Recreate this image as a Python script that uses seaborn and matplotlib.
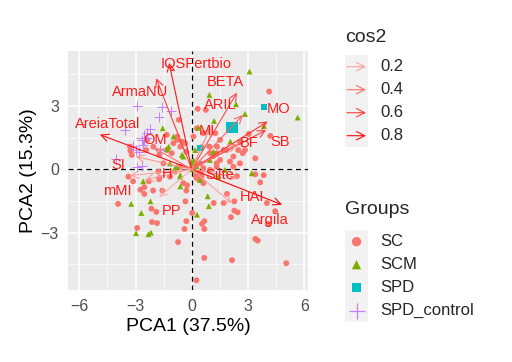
import numpy as np
import pandas as pd
import matplotlib
matplotlib.use("Agg")
import matplotlib.pyplot as plt
import seaborn as sns
from matplotlib.colors import LinearSegmentedColormap

# individuals (PC1, PC2) per group
sc_x = [4.13, 0.32, 0.75, -0.69, 0.28, 1.26, -0.78, -0.61, 1.35, -0.77, -0.53, -0.30, -1.07, -1.73, -2.05, -2.43,
        -3.29, -3.20, -3.27, -2.38, 3.04, 2.72, 3.39, 4.19, 2.57, 0.53, 0.94, 1.15, 1.33, 1.51, 1.86, 2.04, 2.22,
        2.57, 2.84, 2.48, -1.51, -0.89, -1.78, 0.35, 0.62, 1.33, 2.22, -3.38, -3.13, -2.74, -2.53, -2.53, -2.29,
        -3.93, -2.91, -2.06, -1.57, -1.73, -2.15, -1.89, -0.34, -0.25, -0.29, 0.02, -0.29, -0.39, 0.55, 0.67, 0.67,
        -2.12, -1.85, -0.73, 0.67, 0.25, 1.17, 1.70, 1.88, 2.41, 3.84, 3.65, 2.27, 2.27, 2.45, 2.09, 4.01, 4.45,
        4.05, 3.39, 3.52, 2.15, 5.04, -1.33, -0.98, 0.62, 1.51, 1.69, 0.97, 1.33, 0.97, 0.62, -0.45, -1.16, -1.33,
        0.09, -0.36, -0.62, 0.44, -1.74, 3.39]
sc_y = [3.68, 2.86, 2.81, 2.34, 1.94, 1.71, 1.39, 1.07, 1.07, 1.55, 1.31, 0.83, 0.76, 0.68, 1.07, 0.91,
        1.07, 0.68, 0.88, 1.39, 1.67, 0.76, 0.52, 1.58, 1.28, 1.04, 1.07, 0.63, 0.76, 0.44, 0.91, 0.36, 0.60,
        0.28, 0.91, 0.91, 0.28, -0.11, -0.11, -0.27, 0.05, 0.12, 0.12, -0.35, -0.57, -0.97, -0.85, -1.17, -0.57,
        -1.64, -2.78, -1.01, -1.01, -0.41, -1.87, -2.02, -1.52, -0.76, -1.01, -2.07, -2.46, -2.83, -2.59, -2.46, -2.83,
        -2.50, -2.55, -3.45, -4.20, -5.26, -1.60, -1.60, -1.17, -0.33, -0.28, -0.62, -1.52, -1.96, -2.04, -2.27, -1.60, -1.99,
        -2.59, -3.30, -3.38, -4.31, -4.45, 1.63, 1.23, 1.71, 1.39, 0.91, 0.76, 0.28, -0.03, -0.66, -0.66, -0.35, 0.91,
        1.55, 1.23, 0.12, 0.28, -0.47, -0.24]

scm_x = [3.08, 0.94, 2.36, 2.84, 5.65, 3.85, 1.19, 0.35, -1.55, -0.98, 2.06, 1.15, 0.18, -0.45, -0.80, -1.23,
         -1.33, 3.20, -2.59, -3.23, -2.69, -2.97, -2.31, -2.18, -2.20, -0.61, -0.61, 0.85, 0.91, 0.28, -0.53, 0.00,
         0.97, 0.44, 0.00, -0.62, 1.42, -0.89, -1.16, 1.77]
scm_y = [4.63, 3.52, 3.08, 2.62, 2.45, 2.05, 2.29, 1.97, 1.94, 1.55, 1.31, 0.83, 0.91, 0.60, 0.12, 1.07,
         0.95, -0.19, -0.57, -1.64, -2.07, -3.03, -3.08, -3.00, -1.52, -0.81, -0.28, -1.28, -1.75, -2.15, 0.68, 0.36,
         0.44, -0.51, 0.00, -0.35, -0.35, 0.05, 0.28, -0.03]

spd_x = [3.86, 0.44]
spd_y = [2.94, 1.00]

ctl_x = [-2.91, -1.58, -1.10, -1.77, -3.55, -2.22, -2.37, -2.66, -3.14, -2.58, -2.97, -1.69, -4.03, -2.93, -2.66, -2.82]
ctl_y = [3.00, 2.97, 2.78, 2.49, 1.86, 1.90, 1.71, 1.39, 1.10, 1.15, 0.91, 0.91, 0.47, 0.12, 0.16, 0.83]

# variables (arrow tips) and cos2
var_names = ["IQSFertbio", "ArmaNU", "BETA", "ARIL", "MO", "SB", "BF", "MI", "AreiaTotal",
             "OM", "SI", "H", "mMI", "PP", "HAI", "Argila", "Silte"]
var_x = [-1.21, -1.90, 2.41, 2.73, 4.05, 3.97, 2.40, 1.00, -4.90, -2.00, -3.00, -3.30, -2.50, -1.74, 2.13, 4.81, 2.50]
var_y = [5.04, 4.31, 3.63, 2.57, 2.26, 1.86, 1.20, 2.00, 1.64, 1.00, 0.60, -0.30, -0.50, -1.32, -1.61, -1.68, -0.40]
var_cos2 = [0.75, 0.60, 0.55, 0.45, 0.65, 0.60, 0.35, 0.30, 0.80, 0.40, 0.25, 0.20, 0.20, 0.15, 0.20, 0.85, 0.30]

label_pos = {
    "IQSFertbio": (0.23, 5.0), "ArmaNU": (-2.73, 3.68), "BETA": (1.78, 4.15), "ARIL": (1.51, 3.05),
    "MO": (4.61, 2.84), "SB": (4.7, 1.31), "BF": (3.04, 1.26), "MI": (0.8, 1.83),
    "AreiaTotal": (-4.51, 2.15), "OM": (-1.96, 1.39), "SI": (-3.91, 0.2), "H": (-1.33, -0.24),
    "mMI": (-3.98, -1.01), "PP": (-1.1, -1.96), "HAI": (3.21, -1.33), "Argila": (4.19, -2.39),
    "Silte": (1.47, -0.27),
}

groups = ["SC", "SCM", "SPD", "SPD_control"]
palette = {"SC": "#F8766D", "SCM": "#7CAE00", "SPD": "#00BFC4", "SPD_control": "#C77CFF"}
markers = {"SC": "o", "SCM": "^", "SPD": "s", "SPD_control": "P"}

ind = pd.concat([
    pd.DataFrame({"PC1": sc_x, "PC2": sc_y, "Groups": "SC"}),
    pd.DataFrame({"PC1": scm_x, "PC2": scm_y, "Groups": "SCM"}),
    pd.DataFrame({"PC1": spd_x, "PC2": spd_y, "Groups": "SPD"}),
    pd.DataFrame({"PC1": ctl_x, "PC2": ctl_y, "Groups": "SPD_control"}),
], ignore_index=True)
centers = ind.groupby("Groups")[["PC1", "PC2"]].mean().reset_index()

sns.set_theme(style="darkgrid")
plt.rcParams['font.family'] = ['Liberation Sans', 'DejaVu Sans']

fig = plt.figure(figsize=(5.12, 3.62), dpi=100)
ax = fig.add_axes([68 / 512, 1 - 290 / 362, 240 / 512, 239 / 362])
ax.set_facecolor("#EBEBEB")

for g in groups:
    d = ind[ind.Groups == g]
    c = centers[centers.Groups == g]
    if g == "SPD_control":
        ax.scatter(d.PC1, d.PC2, marker="+", s=55, c=palette[g], linewidths=0.7, zorder=3)
        ax.scatter(c.PC1, c.PC2, marker="+", s=120, c=palette[g], linewidths=0.8, zorder=3)
    else:
        sns.scatterplot(data=d, x="PC1", y="PC2", marker=markers[g], color=palette[g], s=18,
                        edgecolor="none", ax=ax, zorder=3, legend=False)
        ax.scatter(c.PC1, c.PC2, marker=markers[g], s=70, color=palette[g], edgecolors="none", zorder=3)

cmap = LinearSegmentedColormap.from_list("cos2", ["#FFB8B8", "#FF0000"])
norm = plt.Normalize(0.1, 0.85)
for n, x, y, c in zip(var_names, var_x, var_y, var_cos2):
    col = cmap(norm(c))
    ax.annotate("", xy=(x, y), xytext=(0, 0),
                arrowprops=dict(arrowstyle="->,head_length=0.45,head_width=0.22", color=col, lw=0.8,
                                shrinkA=0, shrinkB=0), zorder=4)
    lx, ly = label_pos[n]
    ax.text(lx, ly, n, color="#FF1A1A", fontsize=10.5, ha="center", va="center", zorder=5)

ax.axhline(0, color="black", ls=(0, (4, 3)), lw=0.9, zorder=2)
ax.axvline(0, color="black", ls=(0, (4, 3)), lw=0.9, zorder=2)

ax.set_xlim(-6.6, 6.2)
ax.set_ylim(-5.72, 5.6)
ax.set_xticks([-6, -3, 0, 3, 6])
ax.set_yticks([-3, 0, 3])
ax.set_xticks([-4.5, -1.5, 1.5, 4.5], minor=True)
ax.set_yticks([-4.5, -1.5, 1.5, 4.5], minor=True)
ax.grid(which="major", color="white", lw=1.1)
ax.grid(which="minor", color="white", lw=0.5)
for s in ax.spines.values():
    s.set_visible(False)
ax.tick_params(which="major", length=3.5, width=1.1, color="#333333", labelsize=11.5, labelcolor="#4D4D4D", pad=3)
ax.tick_params(which="minor", length=0)
ax.set_xlabel("PCA1 (37.5%)", fontsize=14, color="black", labelpad=3)
ax.set_ylabel("PCA2 (15.3%)", fontsize=14, color="black", labelpad=3)

# legends drawn in pixel space
lg = fig.add_axes([0, 0, 1, 1], facecolor="none")
lg.set_xlim(0, 512)
lg.set_ylim(362, 0)
lg.axis("off")
lg.text(345, 37, "cos2", fontsize=14, va="center", ha="left")
lg.add_patch(plt.Rectangle((345, 55), 23, 92, color="#F2F2F2", lw=0, zorder=0))
for i, v in enumerate([0.2, 0.4, 0.6, 0.8]):
    yy = 66.7 + i * 23
    lg.annotate("", xy=(366, yy), xytext=(347, yy),
                arrowprops=dict(arrowstyle="->,head_length=0.5,head_width=0.25", color=cmap(norm(v)), lw=0.8,
                                shrinkA=0, shrinkB=0))
    lg.text(380, yy, f"{v}", fontsize=12, va="center", ha="left")
lg.text(345, 210, "Groups", fontsize=14, va="center", ha="left")
lg.add_patch(plt.Rectangle((345, 230), 23, 92, color="#F2F2F2", lw=0, zorder=0))
for i, g in enumerate(groups):
    yy = 241.7 + i * 23
    if g == "SPD_control":
        lg.plot([356.5], [yy], marker="+", ms=11, mew=0.9, color=palette[g], ls="none", zorder=3)
    else:
        lg.scatter([356.5], [yy], marker=markers[g], s=45, color=palette[g], edgecolors="none", zorder=3)
    lg.text(380, yy, g, fontsize=12, va="center", ha="left")

fig.savefig("out.png", dpi=100)
